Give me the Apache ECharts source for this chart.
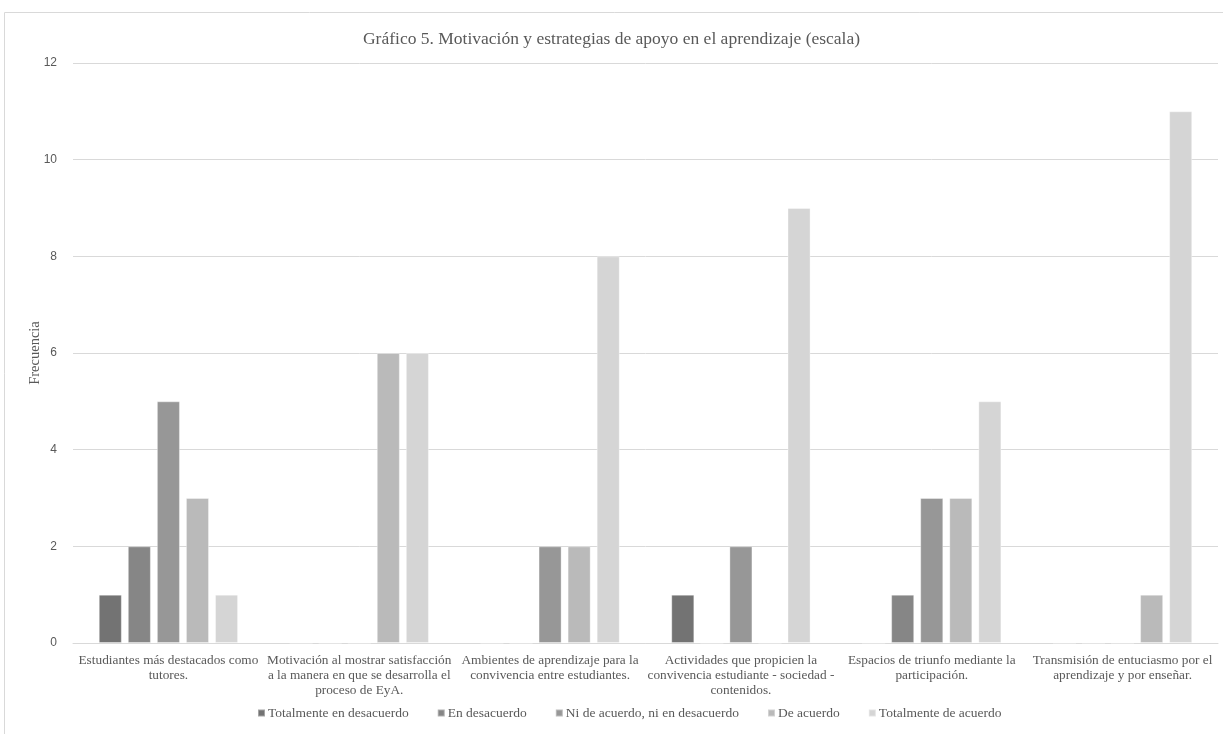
<!DOCTYPE html>
<html>
<head>
<meta charset="utf-8">
<script src="https://cdn.jsdelivr.net/npm/echarts@6/dist/echarts.min.js"></script>
<style>
  html, body { margin: 0; padding: 0; background: #fff; }
  #chart { width: 1223px; height: 734px; }
</style>
</head>
<body>
<div id="chart"></div>
<script>
// Categories (statements) and response counts per Likert level
const categories = [
  'Estudiantes más destacados como\ntutores.',
  'Motivación al mostrar satisfacción\na la manera en que se desarrolla el\nproceso de EyA.',
  'Ambientes de aprendizaje para la\nconvivencia entre estudiantes.',
  'Actividades que propicien la\nconvivencia estudiante - sociedad -\ncontenidos.',
  'Espacios de triunfo mediante la\nparticipación.',
  'Transmisión de entuciasmo por el\naprendizaje y por enseñar.'
];
const seriesNames = [
  'Totalmente en desacuerdo',
  'En desacuerdo',
  'Ni de acuerdo, ni en desacuerdo',
  'De acuerdo',
  'Totalmente de acuerdo'
];
const totalmenteDesacuerdo = [1, 0, 0, 1, 0, 0];
const enDesacuerdo         = [2, 0, 0, 0, 1, 0];
const neutral              = [5, 0, 2, 2, 3, 0];
const deAcuerdo            = [3, 6, 2, 0, 3, 1];
const totalmenteAcuerdo    = [1, 6, 8, 9, 5, 11];
const yTicks = [0, 2, 4, 6, 8, 10, 12];

const values = [totalmenteDesacuerdo, enDesacuerdo, neutral, deAcuerdo, totalmenteAcuerdo];
const colors = ['#737373', '#868686', '#979797', '#bababa', '#d5d5d5'];
const serif = '"Liberation Serif", "Times New Roman", serif';

const chart = echarts.init(document.getElementById('chart'), null, { renderer: 'canvas' });
chart.setOption({
  animation: false,
  color: colors,
  graphic: [{
    type: 'rect',
    shape: { x: 4.5, y: 12.5, width: 1240, height: 740 },
    style: { fill: 'none', stroke: '#d9d9d9', lineWidth: 1 },
    silent: true
  }],
  title: {
    text: 'Gráfico 5. Motivación y estrategias de apoyo en el aprendizaje (escala)',
    left: 'center',
    top: 25,
    textStyle: { fontFamily: serif, fontSize: 17.5, fontWeight: 'normal', color: '#595959' }
  },
  legend: {
    data: seriesNames,
    bottom: 9,
    left: 252,
    icon: 'rect',
    itemWidth: 7,
    itemHeight: 7,
    itemGap: 28,
    textStyle: { fontFamily: serif, fontSize: 13.5, color: '#595959', padding: [0, 0, 0, -2] }
  },
  grid: { left: 73, right: 5, top: 63, bottom: 91, containLabel: false },
  xAxis: {
    type: 'category',
    data: categories,
    axisLine: { lineStyle: { color: '#d9d9d9' } },
    axisTick: { show: false },
    axisLabel: {
      interval: 0,
      margin: 10,
      fontFamily: serif,
      fontSize: 13.3,
      lineHeight: 15,
      color: '#595959'
    }
  },
  yAxis: {
    type: 'value',
    min: yTicks[0],
    max: yTicks[yTicks.length - 1],
    interval: 2,
    name: 'Frecuencia',
    nameLocation: 'middle',
    nameGap: 30,
    nameMoveOverlap: false,
    nameTextStyle: { fontFamily: serif, fontSize: 14.5, color: '#595959' },
    axisLine: { show: false },
    axisTick: { show: false },
    axisLabel: { margin: 16, fontFamily: '"Liberation Sans", Arial, sans-serif', fontSize: 12, color: '#595959' },
    splitLine: { lineStyle: { color: '#d9d9d9', width: 1 } }
  },
  series: seriesNames.map((name, i) => ({
    name,
    type: 'bar',
    data: values[i],
    barGap: '26%',
    barCategoryGap: '27%',
    itemStyle: { color: colors[i], borderColor: 'rgba(255,255,255,0.35)', borderWidth: 1 }
  }))
});
</script>
</body>
</html>
